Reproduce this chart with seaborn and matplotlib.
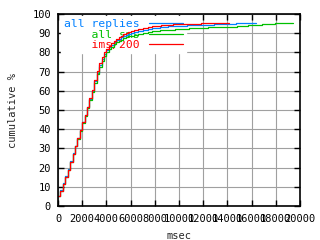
import matplotlib
matplotlib.use("Agg")
import matplotlib.pyplot as plt
import matplotlib.transforms as mtrans
import seaborn as sns
import pandas as pd

# ---- data ----
replies_x = [0, 200, 400, 600, 800, 1000, 1200, 1400, 1600, 1800, 2000, 2200, 2400, 2600,
             2800, 3000, 3200, 3400, 3600, 3800, 4000, 4200, 4400, 4600, 4800, 5000, 5200,
             5400, 5600, 5800, 6000, 6300, 6600, 7000, 7400, 7800, 8400, 9100, 10700,
             12900, 14700, 16400]
replies_y = [5, 8.5, 12, 15.5, 19.5, 23.5, 27.5, 31.5, 35.5, 39.5, 43.5, 47.5, 51.5, 55.5,
             60, 65, 69.5, 73.5, 76.5, 79, 81, 82.7, 84, 85.2, 86.2, 87, 87.8,
             88.5, 89.1, 89.6, 90.1, 90.7, 91.2, 91.8, 92.3, 92.7, 93.1, 93.6, 94.1,
             94.6, 95.1, 95.1]

sms_x = [0, 200, 400, 600, 800, 1000, 1200, 1400, 1600, 1800, 2000, 2200, 2400, 2600,
         2800, 3000, 3200, 3400, 3600, 3800, 4000, 4200, 4400, 4600, 4800, 5000, 5200,
         5400, 5600, 5800, 6000, 6300, 6600, 7000, 7400, 7800, 8400, 9700, 10800,
         12400, 14800, 15700, 16900, 17900, 19400]
sms_y = [5, 8, 11.5, 15, 19, 23, 27, 31, 35, 39, 43, 47, 51, 55,
         59.5, 64, 68.5, 72.5, 75.5, 78, 80, 81.7, 83, 84.2, 85.2, 86, 86.7,
         87.3, 87.9, 88.4, 88.8, 89.3, 89.8, 90.3, 90.8, 91.2, 91.5, 92, 92.5,
         93, 93.6, 94.1, 94.6, 95.1, 95.1]

ims_x = [0, 200, 400, 600, 800, 1000, 1200, 1400, 1600, 1800, 2000, 2200, 2400, 2600,
         2800, 3000, 3200, 3400, 3600, 3800, 4000, 4200, 4400, 4600, 4800, 5000, 5200,
         5400, 5600, 5800, 6000, 6300, 6600, 7000, 7400, 7800, 8500, 9500, 11800, 14100]
ims_y = [5, 8, 11.5, 15, 19, 23, 27, 31, 35.5, 39.5, 43.5, 47.5, 51.5, 56,
         60.5, 65.5, 70.5, 74.5, 77.5, 80, 82, 83.5, 85, 86, 87, 88, 88.8,
         89.6, 90.2, 90.7, 91.2, 91.8, 92.3, 92.8, 93.3, 93.7, 94.3, 94.7, 95.2, 95.2]

series_names = ["all replies", "all sms", "ims/200"]
series_colors = ["#0080ff", "#00c000", "#ff0000"]
x_ticks = list(range(0, 20001, 2000))
y_ticks = list(range(0, 101, 10))

frames = []
for name, xs, ys in zip(series_names, [replies_x, sms_x, ims_x], [replies_y, sms_y, ims_y]):
    frames.append(pd.DataFrame({"msec": xs, "pct": ys, "series": name}))
df = pd.concat(frames, ignore_index=True)

sns.set_theme(style="white")
plt.rcParams["font.family"] = ["DejaVu Sans Mono"]

fig = plt.figure(figsize=(3.2, 2.4), dpi=100)
ax = fig.add_axes([58 / 320, 34 / 240, 242 / 320, 192 / 240])

sns.lineplot(data=df, x="msec", y="pct", hue="series", hue_order=series_names,
             palette=series_colors, estimator=None, sort=False,
             drawstyle="steps-post", linewidth=0.9, ax=ax, legend=False)

ax.set_xlim(0, 20000)
ax.set_ylim(0, 100)
ax.set_xticks(x_ticks)
ax.set_yticks(y_ticks)
ax.set_xticklabels([str(t) for t in x_ticks], fontsize=7.5)
ax.set_yticklabels([str(t) for t in y_ticks], fontsize=7.5)
shift = mtrans.ScaledTranslation(3 / 100, 0, fig.dpi_scale_trans)
for lab in ax.get_xticklabels():
    lab.set_transform(lab.get_transform() + shift)
ax.grid(True, color="#a0a0a0", linewidth=0.8)
ax.set_axisbelow(True)
ax.tick_params(direction="in", length=4, width=1, top=True, right=True,
               bottom=True, left=True, colors="black")
ax.tick_params(axis="x", pad=6)
ax.tick_params(axis="y", pad=5)
for s in ax.spines.values():
    s.set_color("black")
    s.set_linewidth(1.2)
ax.set_xlabel("msec", fontsize=7.5, labelpad=5)
ax.set_ylabel("cumulative %", fontsize=7.5, labelpad=10)

# legend (gnuplot-style: right-aligned coloured text, sample to the right)
handles = ax.get_lines()[:3]
labels = [n.rjust(max(len(m) for m in series_names)) for n in series_names]
leg = ax.legend(handles, labels, loc="upper left", bbox_to_anchor=(0.005, 1.0),
                markerfirst=False, frameon=True, fancybox=False,
                facecolor="white", edgecolor="white", framealpha=1,
                fontsize=8.2, handlelength=3.0, handletextpad=0.8,
                labelspacing=0.05, borderpad=0.25, borderaxespad=0.2)
for t, c in zip(leg.get_texts(), series_colors):
    t.set_color(c)
leg.set_zorder(1.5)
for l in ax.get_lines():
    l.set_zorder(2)

fig.savefig("out.png", dpi=100)
